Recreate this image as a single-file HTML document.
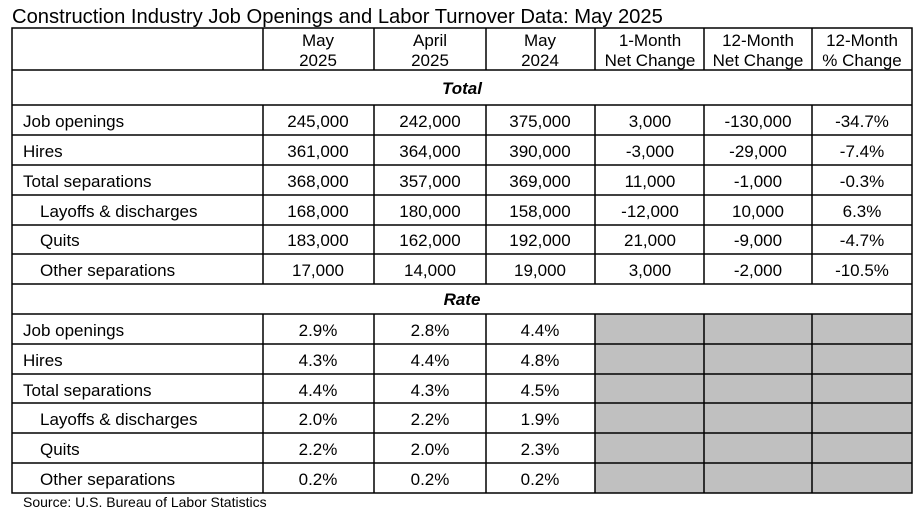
<!DOCTYPE html>
<html><head><meta charset="utf-8"><style>
html,body{margin:0;padding:0;background:#fff;}
svg{display:block;font-family:"Liberation Sans",Arial,sans-serif;}
text{font-size:17px;fill:#000;}
.c{text-anchor:middle;}
</style></head><body>
<svg width="921" height="518" viewBox="0 0 921 518" xmlns="http://www.w3.org/2000/svg">
<text x="12" y="23" style="font-size:20.2px">Construction Industry Job Openings and Labor Turnover Data: May 2025</text>
<g fill="#c0c0c0">
<rect x="595" y="314" width="317" height="179"/>
</g>
<g stroke="#000" stroke-width="1.5" fill="none">
<rect x="12" y="28" width="900" height="465"/>
<line x1="12" y1="70" x2="912" y2="70"/>
<line x1="12" y1="105" x2="912" y2="105"/>
<line x1="12" y1="135" x2="912" y2="135"/>
<line x1="12" y1="165" x2="912" y2="165"/>
<line x1="12" y1="195" x2="912" y2="195"/>
<line x1="12" y1="225" x2="912" y2="225"/>
<line x1="12" y1="254" x2="912" y2="254"/>
<line x1="12" y1="284" x2="912" y2="284"/>
<line x1="12" y1="314" x2="912" y2="314"/>
<line x1="12" y1="344" x2="912" y2="344"/>
<line x1="12" y1="374" x2="912" y2="374"/>
<line x1="12" y1="403" x2="912" y2="403"/>
<line x1="12" y1="433" x2="912" y2="433"/>
<line x1="12" y1="463" x2="912" y2="463"/>
<g>
<line x1="263" y1="28" x2="263" y2="70"/><line x1="263" y1="105" x2="263" y2="284"/><line x1="263" y1="314" x2="263" y2="493"/>
<line x1="374" y1="28" x2="374" y2="70"/><line x1="374" y1="105" x2="374" y2="284"/><line x1="374" y1="314" x2="374" y2="493"/>
<line x1="486" y1="28" x2="486" y2="70"/><line x1="486" y1="105" x2="486" y2="284"/><line x1="486" y1="314" x2="486" y2="493"/>
<line x1="595" y1="28" x2="595" y2="70"/><line x1="595" y1="105" x2="595" y2="284"/><line x1="595" y1="314" x2="595" y2="493"/>
<line x1="704" y1="28" x2="704" y2="70"/><line x1="704" y1="105" x2="704" y2="284"/><line x1="704" y1="314" x2="704" y2="493"/>
<line x1="812" y1="28" x2="812" y2="70"/><line x1="812" y1="105" x2="812" y2="284"/><line x1="812" y1="314" x2="812" y2="493"/>
</g>
</g>
<text class="c" x="318" y="46">May</text><text class="c" x="318" y="66">2025</text>
<text class="c" x="430" y="46">April</text><text class="c" x="430" y="66">2025</text>
<text class="c" x="540" y="46">May</text><text class="c" x="540" y="66">2024</text>
<text class="c" x="650" y="46">1-Month</text><text class="c" x="650" y="66">Net Change</text>
<text class="c" x="758" y="46">12-Month</text><text class="c" x="758" y="66">Net Change</text>
<text class="c" x="862" y="46">12-Month</text><text class="c" x="862" y="66">% Change</text>
<text class="c" x="462" y="94" style="font-weight:bold;font-style:italic">Total</text>
<text class="c" x="462" y="305" style="font-weight:bold;font-style:italic">Rate</text>
<g>
<text x="23" y="127">Job openings</text>
<text class="c" x="318" y="127">245,000</text><text class="c" x="430" y="127">242,000</text><text class="c" x="540" y="127">375,000</text><text class="c" x="650" y="127">3,000</text><text class="c" x="758" y="127">-130,000</text><text class="c" x="862" y="127">-34.7%</text>
<text x="23" y="157">Hires</text>
<text class="c" x="318" y="157">361,000</text><text class="c" x="430" y="157">364,000</text><text class="c" x="540" y="157">390,000</text><text class="c" x="650" y="157">-3,000</text><text class="c" x="758" y="157">-29,000</text><text class="c" x="862" y="157">-7.4%</text>
<text x="23" y="187">Total separations</text>
<text class="c" x="318" y="187">368,000</text><text class="c" x="430" y="187">357,000</text><text class="c" x="540" y="187">369,000</text><text class="c" x="650" y="187">11,000</text><text class="c" x="758" y="187">-1,000</text><text class="c" x="862" y="187">-0.3%</text>
<text x="40" y="217">Layoffs &amp; discharges</text>
<text class="c" x="318" y="217">168,000</text><text class="c" x="430" y="217">180,000</text><text class="c" x="540" y="217">158,000</text><text class="c" x="650" y="217">-12,000</text><text class="c" x="758" y="217">10,000</text><text class="c" x="862" y="217">6.3%</text>
<text x="40" y="246">Quits</text>
<text class="c" x="318" y="246">183,000</text><text class="c" x="430" y="246">162,000</text><text class="c" x="540" y="246">192,000</text><text class="c" x="650" y="246">21,000</text><text class="c" x="758" y="246">-9,000</text><text class="c" x="862" y="246">-4.7%</text>
<text x="40" y="276">Other separations</text>
<text class="c" x="318" y="276">17,000</text><text class="c" x="430" y="276">14,000</text><text class="c" x="540" y="276">19,000</text><text class="c" x="650" y="276">3,000</text><text class="c" x="758" y="276">-2,000</text><text class="c" x="862" y="276">-10.5%</text>
</g>
<g>
<text x="23" y="336">Job openings</text>
<text class="c" x="318" y="336">2.9%</text><text class="c" x="430" y="336">2.8%</text><text class="c" x="540" y="336">4.4%</text>
<text x="23" y="366">Hires</text>
<text class="c" x="318" y="366">4.3%</text><text class="c" x="430" y="366">4.4%</text><text class="c" x="540" y="366">4.8%</text>
<text x="23" y="396">Total separations</text>
<text class="c" x="318" y="396">4.4%</text><text class="c" x="430" y="396">4.3%</text><text class="c" x="540" y="396">4.5%</text>
<text x="40" y="425">Layoffs &amp; discharges</text>
<text class="c" x="318" y="425">2.0%</text><text class="c" x="430" y="425">2.2%</text><text class="c" x="540" y="425">1.9%</text>
<text x="40" y="455">Quits</text>
<text class="c" x="318" y="455">2.2%</text><text class="c" x="430" y="455">2.0%</text><text class="c" x="540" y="455">2.3%</text>
<text x="40" y="485">Other separations</text>
<text class="c" x="318" y="485">0.2%</text><text class="c" x="430" y="485">0.2%</text><text class="c" x="540" y="485">0.2%</text>
</g>
<text x="23" y="507" style="font-size:14px">Source: U.S. Bureau of Labor Statistics</text>
</svg>
</body></html>
